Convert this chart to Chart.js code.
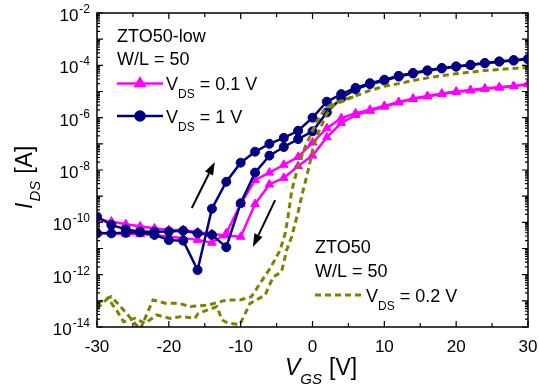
<!DOCTYPE html>
<html>
<head>
<meta charset="utf-8">
<script src="https://cdn.jsdelivr.net/npm/chart.js@4"></script>
<style>
  body { margin: 0; background: #fff; }
  canvas { display: block; }
</style>
</head>
<body>
<canvas id="chart" width="539" height="389"></canvas>
<script>
// VGS steps of the ZTO50-low sweeps (2 V)
const vgsSteps = [-30, -28, -26, -24, -22, -20, -18, -16, -14, -12, -10, -8, -6, -4, -2, 0,
  2, 4, 6, 8, 10, 12, 14, 16, 18, 20, 22, 24, 26, 28, 30];

// log10(IDS)
// VDS = 1 V
const blueForward = [-10.42, -10.42, -10.40, -10.38, -10.48, -10.68, -10.70, -11.82, -9.48, -8.45, -7.72,
  -7.30, -7.00, -6.77, -6.50, -6.00, -5.39, -5.10, -4.86, -4.68, -4.55, -4.40, -4.29, -4.19, -4.10,
  -4.04, -3.98, -3.91, -3.85, -3.80, -3.75];
const blueReverse = [-9.78, -10.10, -10.27, -10.36, -10.36, -10.35, -10.32, -10.42, -10.48, -10.95, -9.27,
  -8.10, -7.45, -7.12, -6.82, -6.52, -5.80, -5.25, -4.92, -4.72, -4.58, -4.43, -4.31, -4.21, -4.12,
  -4.05, -3.99, -3.92, -3.86, -3.82, -3.77];
// VDS = 0.1 V
const pinkForward = [-10.40, -10.42, -10.45, -10.45, -10.48, -10.55, -10.60, -10.67, -10.78, -10.42, -9.30,
  -8.38, -8.10, -7.80, -7.50, -6.95, -6.40, -6.02, -5.83, -5.70, -5.55, -5.40, -5.27, -5.17, -5.08,
  -5.00, -4.94, -4.88, -4.84, -4.79, -4.71];
const pinkReverse = [-9.90, -9.97, -10.07, -10.15, -10.23, -10.29, -10.29, -10.38, -10.45, -10.50, -10.55,
  -9.30, -8.55, -8.30, -7.85, -7.45, -6.75, -6.20, -5.90, -5.74, -5.58, -5.42, -5.29, -5.19, -5.10,
  -5.02, -4.96, -4.90, -4.85, -4.80, -4.72];

// ZTO50, VDS = 0.2 V (two dashed sweeps, no markers)
const oliveAx = [-30, -28, -26.1, -24, -22.2, -20.5, -18.7, -17, -14.5, -12, -10.1, -8.5, -6.5, -5.9,
  -4.5, -3.8, -3.4, -2.9, -2, -1, 0, 1, 2, 3, 4.5, 6.4, 8, 10, 12, 14, 16, 18, 20, 22, 24, 26, 28, 30];
const oliveA = [-13.10, -12.84, -13.41, -14.10, -12.97, -13.09, -13.09, -13.22, -13.16, -12.97, -12.97,
  -12.84, -12.00, -11.76, -11.06, -10.42, -9.78, -8.80, -7.85, -7.10, -6.50, -5.95, -5.60, -5.45, -5.30,
  -5.13, -4.96, -4.80, -4.70, -4.58, -4.48, -4.39, -4.32, -4.26, -4.20, -4.16, -4.12, -4.08];
const oliveBx = [-30, -28.5, -27.3, -26.3, -24.7, -23.3, -21.7, -19.8, -18.2, -16.4, -15.9, -13.3, -12.6,
  -11.7, -10.1, -8.7, -6.6, -5.5, -4.3, -3.6, -2.9, -2, -1.5, -1, -0.5, 0, 0.5, 1, 2, 3, 4.5, 6];
const oliveB = [-13.30, -12.90, -13.35, -13.80, -13.67, -13.86, -13.54, -13.67, -13.60, -13.67, -13.48,
  -13.22, -13.73, -13.86, -13.90, -13.10, -12.78, -12.10, -11.88, -11.06, -10.55, -9.60, -9.00, -8.45,
  -7.90, -7.25, -6.80, -6.45, -5.85, -5.50, -5.33, -5.17];

// sweep direction arrows: [xFrom, log10 yFrom, xTo, log10 yTo]
const sweepArrows = [
  [-16.8, -9.45, -13.6, -7.69],
  [-5.2, -9.15, -8.3, -10.94]
];

const xTicks = [-30, -20, -10, 0, 10, 20, 30];
const yTickExps = [-14, -12, -10, -8, -6, -4, -2];

const PINK = '#ff00ff';
const NAVY = '#000080';
const OLIVE = '#808000';
const FONT = '"Liberation Sans", Arial, sans-serif';

function toPoints(xs, logs) {
  return xs.map((x, i) => ({ x: x, y: Math.pow(10, logs[i]) }));
}

// draw a row of text pieces one after the other
function drawRuns(ctx, x, y, runs) {
  for (const r of runs) {
    ctx.font = r.font;
    ctx.fillText(r.text, x, y + (r.dy || 0));
    x += ctx.measureText(r.text).width + (r.gap || 0);
  }
}

function drawArrow(ctx, x1, y1, x2, y2) {
  const ang = Math.atan2(y2 - y1, x2 - x1);
  const len = 13, half = 4.5;
  const bx = x2 - len * Math.cos(ang), by = y2 - len * Math.sin(ang);
  ctx.beginPath();
  ctx.moveTo(x1, y1);
  ctx.lineTo(bx, by);
  ctx.lineWidth = 2;
  ctx.strokeStyle = '#000';
  ctx.stroke();
  ctx.beginPath();
  ctx.moveTo(x2, y2);
  ctx.lineTo(bx + half * Math.sin(ang), by - half * Math.cos(ang));
  ctx.lineTo(bx - half * Math.sin(ang), by + half * Math.cos(ang));
  ctx.closePath();
  ctx.fillStyle = '#000';
  ctx.fill();
}

const decorations = {
  id: 'decorations',
  afterDraw(chart) {
    const ctx = chart.ctx;
    const a = chart.chartArea;
    const xs = chart.scales.x, ys = chart.scales.y;
    ctx.save();

    // frame
    ctx.strokeStyle = '#000';
    ctx.lineWidth = 1.5;
    ctx.strokeRect(a.left, a.top, a.right - a.left, a.bottom - a.top);

    // x ticks, inward, top and bottom
    ctx.lineWidth = 1.2;
    for (let v = -30; v <= 30; v += 5) {
      const px = xs.getPixelForValue(v);
      const l = v % 10 === 0 ? 6 : 4;
      ctx.beginPath();
      ctx.moveTo(px, a.bottom); ctx.lineTo(px, a.bottom - l);
      ctx.moveTo(px, a.top); ctx.lineTo(px, a.top + l);
      ctx.stroke();
    }
    // y ticks, inward, left and right
    for (let e = -14; e <= -2; e++) {
      const py = ys.getPixelForValue(Math.pow(10, e));
      ctx.beginPath();
      ctx.moveTo(a.left, py); ctx.lineTo(a.left + 6, py);
      ctx.moveTo(a.right, py); ctx.lineTo(a.right - 6, py);
      ctx.stroke();
      if (e < -2) {
        for (let m = 2; m <= 9; m++) {
          const pm = ys.getPixelForValue(m * Math.pow(10, e));
          ctx.beginPath();
          ctx.moveTo(a.left, pm); ctx.lineTo(a.left + 3, pm);
          ctx.moveTo(a.right, pm); ctx.lineTo(a.right - 3, pm);
          ctx.stroke();
        }
      }
    }

    ctx.fillStyle = '#000';
    // x tick labels
    ctx.font = '17px ' + FONT;
    ctx.textAlign = 'center';
    ctx.textBaseline = 'alphabetic';
    for (const v of xTicks) {
      ctx.fillText(String(v), xs.getPixelForValue(v), a.bottom + 25);
    }
    // y tick labels 10^n
    ctx.textAlign = 'right';
    for (const e of yTickExps) {
      const py = ys.getPixelForValue(Math.pow(10, e));
      ctx.font = '12px ' + FONT;
      const sup = String(e);
      ctx.fillText(sup, 90, py);
      const w = ctx.measureText(sup).width;
      ctx.font = '17px ' + FONT;
      ctx.fillText('10', 90 - w - 1, py + 8);
    }

    // axis titles
    ctx.textAlign = 'left';
    drawRuns(ctx, 285, 375, [
      { text: 'V', font: 'italic 23px ' + FONT },
      { text: 'GS', font: 'italic 15px ' + FONT, dy: 9, gap: 7 },
      { text: '[V]', font: '23px ' + FONT }
    ]);
    ctx.save();
    ctx.translate(32, 209);
    ctx.rotate(-Math.PI / 2);
    drawRuns(ctx, 0, 0, [
      { text: 'I', font: 'italic 23px ' + FONT, gap: 1 },
      { text: 'DS', font: 'italic 15px ' + FONT, dy: 8, gap: 7 },
      { text: '[A]', font: '23px ' + FONT }
    ]);
    ctx.restore();

    // legend, upper left
    ctx.font = '18px ' + FONT;
    ctx.fillText('ZTO50-low', 117, 42);
    ctx.fillText('W/L = 50', 117, 65);
    const legendRows = [
      { y: 83.5, color: PINK, style: 'triangle', r: 5, value: ' = 0.1 V' },
      { y: 116, color: NAVY, style: 'circle', r: 4.5, value: ' = 1 V' }
    ];
    for (const row of legendRows) {
      ctx.beginPath();
      ctx.moveTo(117, row.y); ctx.lineTo(163, row.y);
      ctx.strokeStyle = row.color;
      ctx.lineWidth = 2.5;
      ctx.stroke();
      ctx.fillStyle = row.color;
      Chart.helpers.drawPoint(ctx, { pointStyle: row.style, radius: row.r, rotation: 0, borderWidth: 1 }, 140, row.y);
      ctx.fillStyle = '#000';
      drawRuns(ctx, 166, row.y + 6.5, [
        { text: 'V', font: '18px ' + FONT },
        { text: 'DS', font: '12px ' + FONT, dy: 8 },
        { text: row.value, font: '18px ' + FONT }
      ]);
    }

    // legend, lower right
    ctx.fillStyle = '#000';
    ctx.font = '18px ' + FONT;
    ctx.fillText('ZTO50', 315, 253);
    ctx.fillText('W/L = 50', 315, 277);
    ctx.beginPath();
    ctx.setLineDash([6, 4]);
    ctx.moveTo(315, 295); ctx.lineTo(362, 295);
    ctx.strokeStyle = OLIVE;
    ctx.lineWidth = 3;
    ctx.stroke();
    ctx.setLineDash([]);
    drawRuns(ctx, 366, 302, [
      { text: 'V', font: '18px ' + FONT },
      { text: 'DS', font: '12px ' + FONT, dy: 8 },
      { text: ' = 0.2 V', font: '18px ' + FONT }
    ]);

    // sweep arrows
    for (const s of sweepArrows) {
      drawArrow(ctx,
        xs.getPixelForValue(s[0]), ys.getPixelForValue(Math.pow(10, s[1])),
        xs.getPixelForValue(s[2]), ys.getPixelForValue(Math.pow(10, s[3])));
    }
    ctx.restore();
  }
};

function markerSet(label, color, style, radius, logs, order) {
  return {
    label: label,
    data: toPoints(vgsSteps, logs),
    borderColor: color,
    backgroundColor: color,
    borderWidth: 2.5,
    pointStyle: style,
    pointRadius: radius,
    pointBorderWidth: 1,
    order: order
  };
}

function dashedSet(label, xs, logs) {
  return {
    label: label,
    data: toPoints(xs, logs),
    borderColor: OLIVE,
    borderWidth: 3,
    borderDash: [6, 4],
    pointRadius: 0,
    order: 0
  };
}

new Chart(document.getElementById('chart'), {
  type: 'line',
  data: {
    datasets: [
      markerSet('VDS = 1 V', NAVY, 'circle', 4.5, blueForward, 1),
      markerSet('VDS = 1 V reverse', NAVY, 'circle', 4.5, blueReverse, 1),
      markerSet('VDS = 0.1 V', PINK, 'triangle', 5, pinkForward, 2),
      markerSet('VDS = 0.1 V reverse', PINK, 'triangle', 5, pinkReverse, 2),
      dashedSet('ZTO50 VDS = 0.2 V', oliveAx, oliveA),
      dashedSet('ZTO50 VDS = 0.2 V reverse', oliveBx, oliveB)
    ]
  },
  options: {
    responsive: false,
    animation: false,
    devicePixelRatio: 1,
    layout: { padding: { left: 97, top: 13, right: 11, bottom: 62 } },
    plugins: { legend: { display: false }, tooltip: { enabled: false } },
    scales: {
      x: { type: 'linear', min: -30, max: 30, display: false },
      y: { type: 'logarithmic', min: 1e-14, max: 1e-2, display: false }
    }
  },
  plugins: [decorations]
});
</script>
</body>
</html>
